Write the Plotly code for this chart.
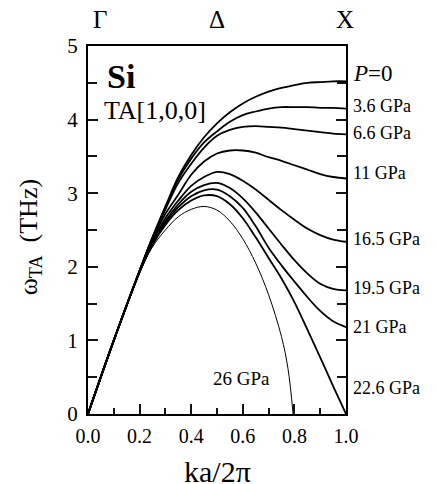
import plotly.graph_objects as go

# Reduced wave vector ka/2pi (common grid) and TA[100] frequencies (THz)
k_grid = [0.0, 0.1, 0.2, 0.25, 0.3, 0.35, 0.4, 0.45, 0.5, 0.55, 0.6, 0.65, 0.7, 0.75, 0.8, 0.85, 0.9, 0.95, 1.0]
w_p0   = [0, 1.0, 1.95, 2.40, 2.82, 3.22, 3.52, 3.76, 3.95, 4.10, 4.22, 4.31, 4.38, 4.43, 4.47, 4.50, 4.51, 4.52, 4.52]
w_3_6  = [0, 1.0, 1.95, 2.40, 2.80, 3.19, 3.47, 3.69, 3.84, 3.97, 4.06, 4.11, 4.15, 4.17, 4.17, 4.17, 4.16, 4.16, 4.15]
w_6_6  = [0, 1.0, 1.95, 2.39, 2.78, 3.14, 3.40, 3.62, 3.78, 3.86, 3.90, 3.91, 3.90, 3.89, 3.87, 3.85, 3.83, 3.81, 3.80]
w_11   = [0, 1.0, 1.94, 2.37, 2.72, 2.98, 3.25, 3.43, 3.54, 3.58, 3.58, 3.55, 3.49, 3.44, 3.38, 3.32, 3.26, 3.22, 3.20]
w_16_5 = [0, 1.0, 1.93, 2.34, 2.66, 2.90, 3.10, 3.22, 3.29, 3.26, 3.17, 3.05, 2.91, 2.77, 2.64, 2.52, 2.43, 2.37, 2.34]
w_19_5 = [0, 1.0, 1.93, 2.32, 2.62, 2.85, 3.02, 3.11, 3.14, 3.07, 2.93, 2.74, 2.52, 2.30, 2.09, 1.91, 1.77, 1.70, 1.68]
w_21   = [0, 1.0, 1.93, 2.31, 2.60, 2.81, 2.96, 3.04, 3.05, 2.96, 2.80, 2.55, 2.26, 2.02, 1.80, 1.59, 1.40, 1.26, 1.18]
w_22_6 = [0, 1.0, 1.93, 2.30, 2.57, 2.77, 2.90, 2.97, 2.96, 2.85, 2.66, 2.40, 2.12, 1.84, 1.52, 1.15, 0.77, 0.38, 0.0]
k_26   = [0.0, 0.1, 0.2, 0.25, 0.3, 0.35, 0.4, 0.45, 0.5, 0.55, 0.6, 0.65, 0.7, 0.75, 0.775, 0.795]
w_26   = [0, 1.0, 1.93, 2.27, 2.50, 2.68, 2.78, 2.82, 2.77, 2.62, 2.38, 2.05, 1.62, 1.05, 0.62, 0.0]

pressure_labels = ["<i>P</i>=0", "3.6 GPa", "6.6 GPa", "11 GPa", "16.5 GPa", "19.5 GPa", "21 GPa", "22.6 GPa"]
label_y = [4.62, 4.19, 3.82, 3.28, 2.38, 1.71, 1.18, 0.35]
x_tick_vals = [0.0, 0.2, 0.4, 0.6, 0.8, 1.0]
x_tick_text = ["0.0", "0.2", "0.4", "0.6", "0.8", "1.0"]
y_tick_vals = [0, 1, 2, 3, 4, 5]
y_tick_text = ["0", "1", "2", "3", "4", "5"]

SERIF = "Liberation Serif"
TICK = "rgb(20,20,20)"
fig = go.Figure()
series = [w_p0, w_3_6, w_6_6, w_11, w_16_5, w_19_5, w_21, w_22_6]
for w in series:
    fig.add_trace(go.Scatter(x=k_grid, y=w, mode="lines",
                             line=dict(color="black", width=1.8, shape="spline", smoothing=1.0),
                             showlegend=False, hoverinfo="skip"))
fig.add_trace(go.Scatter(x=k_26, y=w_26, mode="lines",
                         line=dict(color="black", width=1.0, shape="spline", smoothing=1.0),
                         showlegend=False, hoverinfo="skip"))

ann = []
for t, yv in zip(pressure_labels, label_y):
    ann.append(dict(x=1.0, y=yv, xref="x", yref="y", text=t, showarrow=False,
                    xanchor="left", yanchor="middle", xshift=5,
                    font=dict(family=SERIF, size=23 if t.startswith("<i>") else 18, color="black")))
ann.append(dict(x=0.594, y=0.48, xref="x", yref="y", text="26 GPa", showarrow=False,
                xanchor="center", yanchor="middle", font=dict(family=SERIF, size=19, color="black")))
ann.append(dict(x=0.127, y=4.58, xref="x", yref="y", text="<b>Si</b>", showarrow=False,
                xanchor="center", yanchor="middle", font=dict(family=SERIF, size=34, color="black")))
ann.append(dict(x=0.26, y=4.13, xref="x", yref="y", text="TA[1,0,0]", showarrow=False,
                xanchor="center", yanchor="middle", font=dict(family=SERIF, size=26, color="black")))
for t, xv in [("Γ", 0.045), ("Δ", 0.5), ("X", 0.995)]:
    ann.append(dict(x=xv, y=1.0, xref="x", yref="paper", text=t, showarrow=False,
                    xanchor="center", yanchor="bottom", yshift=11,
                    font=dict(family=SERIF, size=25, color="black")))
ann.append(dict(x=0.5, y=0, xref="x", yref="paper", text="ka/2π", showarrow=False,
                xanchor="center", yanchor="top", yshift=-39,
                font=dict(family=SERIF, size=30, color="black")))
ann.append(dict(x=0, y=2.40, xref="paper", yref="y", text="ω<sub>TA</sub>  (THz)", showarrow=False,
                xanchor="center", yanchor="middle", xshift=-58, textangle=-90,
                font=dict(family=SERIF, size=26, color="black")))

# The page body adds an 8 px offset, so the figure is 8 px smaller than the window.
fig.update_layout(
    width=430, height=476, autosize=False,
    font=dict(family=SERIF, color="black"),
    margin=dict(l=80, r=92, t=38, b=70),
    paper_bgcolor="white", plot_bgcolor="white",
    annotations=ann,
    xaxis=dict(range=[0, 1], tickvals=x_tick_vals, ticktext=x_tick_text,
               ticks="inside", ticklen=10, tickwidth=2, tickcolor=TICK,
               minor=dict(dtick=0.1, ticks="inside", ticklen=6, tickwidth=2, tickcolor=TICK),
               showline=True, linewidth=2, linecolor="black", mirror=True,
               showgrid=False, zeroline=False, ticklabelstandoff=3,
               tickfont=dict(family=SERIF, size=20, color="black")),
    yaxis=dict(range=[0, 5], tickvals=y_tick_vals, ticktext=y_tick_text,
               ticks="inside", ticklen=10, tickwidth=2, tickcolor=TICK,
               minor=dict(dtick=0.5, ticks="inside", ticklen=9, tickwidth=2, tickcolor=TICK),
               showline=True, linewidth=2, linecolor="black", mirror="ticks",
               showgrid=False, zeroline=False, ticklabelstandoff=4,
               tickfont=dict(family=SERIF, size=21, color="black")),
)
fig.write_html("out.html")
